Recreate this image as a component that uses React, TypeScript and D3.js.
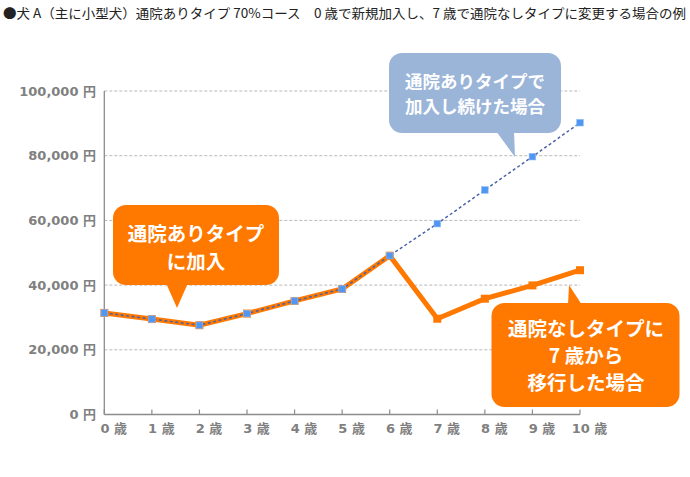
import React from "react";
import * as d3 from "d3";

const title =
  "●犬 A（主に小型犬）通院ありタイプ 70%コース　0 歳で新規加入し、7 歳で通院なしタイプに変更する場合の例";
const categories = ["0 歳", "1 歳", "2 歳", "3 歳", "4 歳", "5 歳", "6 歳", "7 歳", "8 歳", "9 歳", "10 歳"];
const continuedValues = [31400, 29500, 27600, 31200, 35100, 38800, 49100, 59000, 69400, 79700, 90200];
const switchedValues = [31400, 29500, 27600, 31200, 35100, 38800, 49100, 29600, 35800, 39900, 44600];
const yTicks = [0, 20000, 40000, 60000, 80000, 100000];
const calloutJoin = ["通院ありタイプ", "に加入"];
const calloutContinue = ["通院ありタイプで", "加入し続けた場合"];
const calloutSwitch = ["通院なしタイプに", "7 歳から", "移行した場合"];

const W = 690;
const H = 477;
const ORANGE = "#ff7800";
const BLUE_BOX = "#9bb5d9";
const GRAY = "#808080";
const LABEL_FONT = "'DejaVu Sans', 'Noto Sans CJK JP', sans-serif";
const CJK_FONT = "'Noto Sans CJK JP', sans-serif";

function Callout({
  x, y, w, h, r, fill, pointer, lines, fontSize, cx, lineYs,
}: {
  x: number; y: number; w: number; h: number; r: number; fill: string;
  pointer: [number, number][]; lines: string[]; fontSize: number; cx: number; lineYs: number[];
}) {
  return (
    <g>
      <rect x={x} y={y} width={w} height={h} rx={r} ry={r} fill={fill} />
      <polygon points={pointer.map((p) => p.join(",")).join(" ")} fill={fill} />
      {lines.map((t, i) => (
        <text
          key={i}
          x={cx}
          y={lineYs[i]}
          textAnchor="middle"
          dominantBaseline="central"
          fill="#fff"
          fontFamily={CJK_FONT}
          fontWeight={700}
          fontSize={fontSize}
        >
          {t}
        </text>
      ))}
    </g>
  );
}

export default function App() {
  const x = d3.scalePoint<string>().domain(categories).range([104.3, 580]);
  const y = d3.scaleLinear().domain([0, 100000]).range([414.5, 91]);
  const fmt = d3.format(",");

  const line = d3
    .line<number>()
    .x((_, i) => x(categories[i]) as number)
    .y((d) => y(d));

  const x0 = x(categories[0]) as number;
  const xN = x(categories[categories.length - 1]) as number;

  return (
    <svg
      width={W}
      height={H}
      viewBox={`0 0 ${W} ${H}`}
      style={{ position: "absolute", left: 0, top: 0, background: "#fff" }}
    >
      <rect width={W} height={H} fill="#fff" />
      <text
        x={3}
        y={18}
        fontFamily={CJK_FONT}
        fontSize={13}
        fill="#222"
        textLength={683}
        lengthAdjust="spacingAndGlyphs"
      >
        {title}
      </text>

      {/* gridlines */}
      {yTicks.slice(1).map((t) => (
        <line
          key={t}
          x1={x0}
          x2={xN}
          y1={y(t)}
          y2={y(t)}
          stroke="#b8b8b8"
          strokeWidth={1}
          strokeDasharray="3,2"
        />
      ))}

      {/* y labels */}
      {yTicks.map((t) => (
        <text
          key={t}
          x={96}
          y={y(t)}
          textAnchor="end"
          dominantBaseline="central"
          fontFamily={LABEL_FONT}
          fontWeight={700}
          fontSize={13}
          fill={GRAY}
        >
          {fmt(t) + " 円"}
        </text>
      ))}

      {/* axes */}
      <line x1={x0} x2={x0} y1={y(100000)} y2={y(0)} stroke="#8c8c8c" strokeWidth={1.3} />
      <line x1={x0} x2={xN} y1={y(0)} y2={y(0)} stroke="#8c8c8c" strokeWidth={1.3} />
      {categories.map((c) => (
        <line
          key={c}
          x1={x(c) as number}
          x2={x(c) as number}
          y1={y(0)}
          y2={y(0) - 5}
          stroke="#8c8c8c"
          strokeWidth={1.2}
        />
      ))}
      {categories.map((c) => (
        <text
          key={c}
          x={(x(c) as number) + 9.5}
          y={428}
          textAnchor="middle"
          dominantBaseline="central"
          fontFamily={LABEL_FONT}
          fontWeight={700}
          fontSize={13}
          fill={GRAY}
        >
          {c}
        </text>
      ))}

      {/* switched series (orange) */}
      <path
        d={line(switchedValues) || ""}
        fill="none"
        stroke={ORANGE}
        strokeWidth={5}
        strokeLinejoin="miter"
      />
      {switchedValues.map((v, i) => (
        <rect
          key={i}
          x={(x(categories[i]) as number) - 4}
          y={y(v) - 4}
          width={8}
          height={8}
          fill={ORANGE}
        />
      ))}

      {/* continued series (blue dashed) */}
      <path
        d={line(continuedValues) || ""}
        fill="none"
        stroke="#4a62a8"
        strokeWidth={1.5}
        strokeDasharray="3,2.5"
      />
      {continuedValues.map((v, i) => (
        <rect
          key={i}
          x={(x(categories[i]) as number) - 3.3}
          y={y(v) - 3.3}
          width={6.6}
          height={6.6}
          fill="#4f97f3"
          stroke="#8fbaf5"
          strokeWidth={0.6}
        />
      ))}

      {/* callouts */}
      <Callout
        x={113}
        y={205}
        w={166}
        h={80}
        r={13}
        fill={ORANGE}
        pointer={[
          [166, 283],
          [188, 283],
          [177, 308],
        ]}
        lines={calloutJoin}
        fontSize={19.5}
        cx={196}
        lineYs={[232, 260]}
      />
      <Callout
        x={389}
        y={53}
        w={172}
        h={80}
        r={13}
        fill={BLUE_BOX}
        pointer={[
          [496, 131],
          [514, 131],
          [515, 157],
        ]}
        lines={calloutContinue}
        fontSize={17.5}
        cx={475}
        lineYs={[80.5, 105]}
      />
      <Callout
        x={491.5}
        y={303}
        w={188}
        h={104}
        r={13}
        fill={ORANGE}
        pointer={[
          [568, 305],
          [569, 285],
          [582, 305],
        ]}
        lines={calloutSwitch}
        fontSize={19.5}
        cx={586}
        lineYs={[327.5, 354.5, 381.5]}
      />
    </svg>
  );
}
